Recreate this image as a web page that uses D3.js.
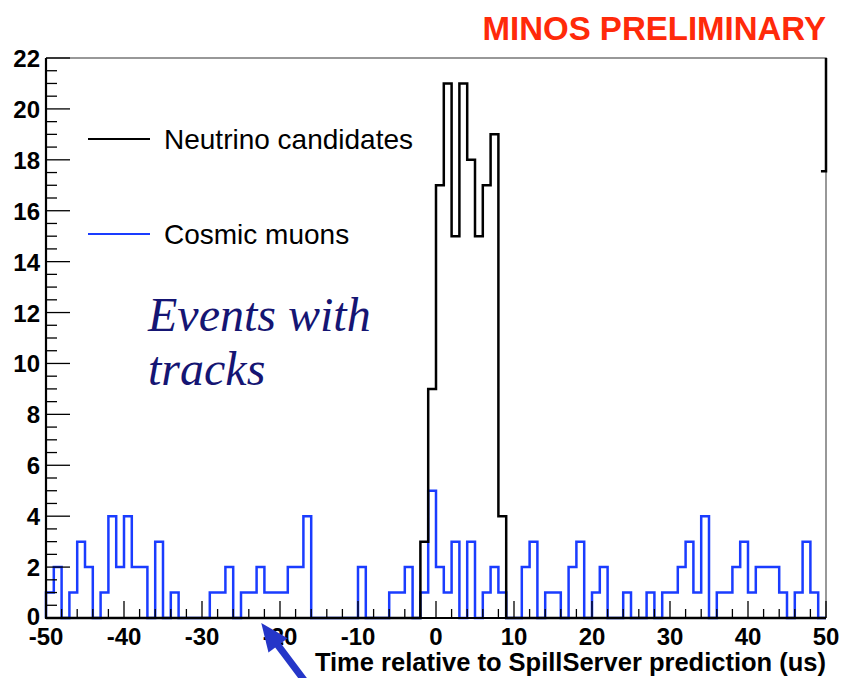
<!DOCTYPE html>
<html>
<head>
<meta charset="utf-8">
<script src="https://cdn.jsdelivr.net/npm/d3@7/dist/d3.min.js"></script>
<style>
    body { margin: 0; background: #fff; }
    svg { display: block; }
</style>
</head>
<body>
<svg width="843" height="678"></svg>
<script>
// histogram bins, 1 us wide, lower edges -50 .. 49
const binEdges = d3.range(-50, 51, 1);

const neutrinoCounts = [
    0, 0, 0, 0, 0, 0, 0, 0, 0, 0,
    0, 0, 0, 0, 0, 0, 0, 0, 0, 0,
    0, 0, 0, 0, 0, 0, 0, 0, 0, 0,
    0, 0, 0, 0, 0, 0, 0, 0, 0, 0,
    0, 0, 0, 0, 0, 0, 0, 0, 3, 9,
    17, 21, 15, 21, 18, 15, 17, 19, 4, 0,
    0, 0, 0, 0, 0, 0, 0, 0, 0, 0,
    0, 0, 0, 0, 0, 0, 0, 0, 0, 0,
    0, 0, 0, 0, 0, 0, 0, 0, 0, 0,
    0, 0, 0, 0, 0, 0, 0, 0, 0, 0
];

const cosmicCounts = [
    1, 2, 0, 1, 3, 2, 0, 1, 4, 2,
    4, 2, 2, 0, 3, 0, 1, 0, 0, 0,
    0, 1, 1, 2, 0, 1, 1, 2, 1, 1,
    1, 2, 2, 4, 0, 0, 0, 0, 0, 0,
    2, 0, 0, 0, 1, 1, 2, 0, 1, 5,
    2, 1, 3, 0, 3, 0, 1, 2, 1, 0,
    0, 2, 3, 0, 1, 1, 0, 2, 3, 0,
    1, 2, 0, 0, 1, 0, 0, 1, 0, 1,
    1, 2, 3, 1, 4, 0, 1, 1, 2, 3,
    1, 2, 2, 2, 1, 0, 1, 3, 1, 0
];

const xTickValues = [-50, -40, -30, -20, -10, 0, 10, 20, 30, 40, 50];
const yTickValues = [0, 2, 4, 6, 8, 10, 12, 14, 16, 18, 20, 22];

const seriesNames = ['Neutrino candidates', 'Cosmic muons'];
const seriesColors = ['#000000', '#1a3cff'];

const width = 843;
const height = 678;
const chart = { left: 46, right: 826, top: 58, bottom: 618 };
const labelFont = '"Liberation Sans", Arial, Helvetica, sans-serif';

const svg = d3.select('svg');

const xScale = d3.scaleLinear().domain([-50, 50]).range([chart.left, chart.right]);
const yScale = d3.scaleLinear().domain([0, 22]).range([chart.bottom, chart.top]);

svg.append('rect')
    .attr('x', 0)
    .attr('y', 0)
    .attr('width', width)
    .attr('height', height)
    .attr('fill', '#ffffff');

// turn bin counts into a stepped outline like ROOT draws it
function histPoints(counts) {
    let pts = [[binEdges[0], 0]];
    counts.forEach((c, i) => {
        pts.push([binEdges[i], c]);
        pts.push([binEdges[i + 1], c]);
    });
    pts.push([binEdges[binEdges.length - 1], 0]);
    return pts;
}

const line = d3.line()
    .x(d => xScale(d[0]))
    .y(d => yScale(d[1]));

// frame (grey top / right)
svg.append('path')
    .attr('d', `M${chart.left},${chart.top}H${chart.right}V${chart.bottom}`)
    .attr('fill', 'none')
    .attr('stroke', '#777')
    .attr('stroke-width', 1.5);

// histograms
svg.append('path')
    .attr('d', line(histPoints(cosmicCounts)))
    .attr('fill', 'none')
    .attr('stroke', seriesColors[1])
    .attr('stroke-width', 2.5);

svg.append('path')
    .attr('d', line(histPoints(neutrinoCounts)))
    .attr('fill', 'none')
    .attr('stroke', seriesColors[0])
    .attr('stroke-width', 2.5);

// stub at the right edge
svg.append('path')
    .attr('d', `M${xScale(50)},${yScale(22)}V${yScale(17.55)}H${xScale(49.35)}`)
    .attr('fill', 'none')
    .attr('stroke', '#000')
    .attr('stroke-width', 2.5);

// x axis
const xAxis = svg.append('g').attr('id', 'x-axis');
d3.range(-50, 51, 2).forEach(v => {
    const major = v % 10 === 0;
    xAxis.append('line')
        .attr('x1', xScale(v)).attr('x2', xScale(v))
        .attr('y1', chart.bottom).attr('y2', chart.bottom - (major ? 17 : 9))
        .attr('stroke', '#000').attr('stroke-width', 1.3);
});
xAxis.append('line')
    .attr('x1', chart.left - 1).attr('x2', chart.right)
    .attr('y1', chart.bottom).attr('y2', chart.bottom)
    .attr('stroke', '#000').attr('stroke-width', 2.2);
xAxis.selectAll('text.tick-label')
    .data(xTickValues)
    .join('text')
    .attr('class', 'tick-label')
    .attr('x', d => xScale(d))
    .attr('y', chart.bottom + 27)
    .attr('text-anchor', 'middle')
    .style('font-family', labelFont)
    .style('font-size', '24px')
    .style('font-weight', 'bold')
    .text(d => d);

// y axis
const yAxis = svg.append('g').attr('id', 'y-axis');
d3.range(0, 22.01, 0.5).forEach(v => {
    const major = v % 2 === 0;
    yAxis.append('line')
        .attr('x1', chart.left).attr('x2', chart.left + (major ? 24 : 11))
        .attr('y1', yScale(v)).attr('y2', yScale(v))
        .attr('stroke', '#000').attr('stroke-width', 1.3);
});
yAxis.append('line')
    .attr('x1', chart.left).attr('x2', chart.left)
    .attr('y1', chart.top).attr('y2', chart.bottom + 1)
    .attr('stroke', '#000').attr('stroke-width', 2.2);
yAxis.selectAll('text.tick-label')
    .data(yTickValues)
    .join('text')
    .attr('class', 'tick-label')
    .attr('x', chart.left - 6)
    .attr('y', d => yScale(d) + (d === 0 ? 7 : 9))
    .attr('text-anchor', 'end')
    .style('font-family', labelFont)
    .style('font-size', '24px')
    .style('font-weight', 'bold')
    .text(d => d);

// axis title
svg.append('text')
    .attr('x', chart.right)
    .attr('y', 671)
    .attr('text-anchor', 'end')
    .style('font-family', labelFont)
    .style('font-size', '25.5px')
    .style('font-weight', 'bold')
    .text('Time relative to SpillServer prediction (us)');

// header
svg.append('text')
    .attr('x', chart.right)
    .attr('y', 40)
    .attr('text-anchor', 'end')
    .attr('fill', '#ff2a0a')
    .style('font-family', labelFont)
    .style('font-size', '33px')
    .style('font-weight', 'bold')
    .text('MINOS PRELIMINARY');

// legend
const legendY = [139, 234];
seriesNames.forEach((name, i) => {
    svg.append('line')
        .attr('x1', 88).attr('x2', 150)
        .attr('y1', legendY[i]).attr('y2', legendY[i])
        .attr('stroke', seriesColors[i])
        .attr('stroke-width', 2);
    svg.append('text')
        .attr('x', 164)
        .attr('y', legendY[i] + 10)
        .attr('fill', '#000')
        .style('font-family', labelFont)
        .style('font-size', '28px')
        .text(name);
});

// annotation
const note = svg.append('text')
    .attr('x', 148)
    .attr('y', 331)
    .attr('fill', '#151573')
    .style('font-family', '"Liberation Serif", "Times New Roman", serif')
    .style('font-style', 'italic')
    .style('font-size', '48px');
note.append('tspan').attr('x', 148).text('Events with');
note.append('tspan').attr('x', 148).attr('dy', 54).text('tracks');

// arrow pointing at the axis
const tip = [xScale(-22.4), yScale(0) + 5];
const tail = [tip[0] + 45, tip[1] + 60];
const len = Math.hypot(tail[0] - tip[0], tail[1] - tip[1]);
const u = [(tip[0] - tail[0]) / len, (tip[1] - tail[1]) / len];
const n = [-u[1], u[0]];
const headLen = 28, headHalf = 12;
const base = [tip[0] - u[0] * headLen, tip[1] - u[1] * headLen];

svg.append('line')
    .attr('x1', tail[0] + 20 * -u[0]).attr('y1', tail[1] + 20 * -u[1])
    .attr('x2', base[0] + u[0] * 2).attr('y2', base[1] + u[1] * 2)
    .attr('stroke', '#2536c8')
    .attr('stroke-width', 7);
svg.append('path')
    .attr('d', `M${tip[0]},${tip[1]}L${base[0] + n[0] * headHalf},${base[1] + n[1] * headHalf}L${base[0] - n[0] * headHalf},${base[1] - n[1] * headHalf}Z`)
    .attr('fill', '#2536c8');
</script>
</body>
</html>
